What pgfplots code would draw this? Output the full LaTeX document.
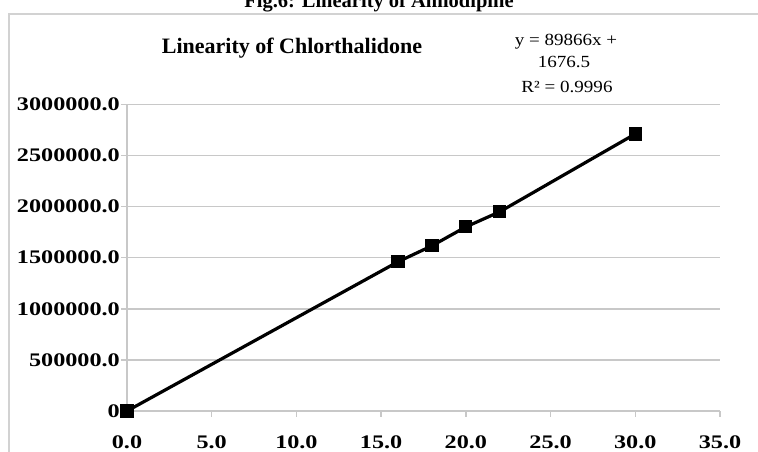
\documentclass[border=0pt]{standalone}
\usepackage{fontspec}
\setmainfont{Liberation Serif}
\newfontfamily\stretchfont{Liberation Serif}[FakeStretch=1.26]
\newfontfamily\eqfont{Liberation Serif}[FakeStretch=1.12]
\usepackage{pgfplots}
\pgfplotsset{compat=1.18}
\definecolor{gridgray}{HTML}{C8C8C8}
\definecolor{framegray}{HTML}{D2D2D2}
\begin{document}
\begin{tikzpicture}[x=1pt,y=1pt]
% outer frame
\draw[framegray, line width=2pt] (8.5,-10) -- (8.5,438) -- (770,438);
% cut-off figure caption
\node[anchor=base, inner sep=0pt, font=\bfseries\fontsize{20.5}{22}\selectfont] at (379,444.5) {Fig.6: Linearity of Amlodipine};
\begin{axis}[
  at={(127pt,41pt)}, anchor=origin,
  scale only axis, width=593pt, height=306.5pt,
  xmin=0, xmax=35, ymin=0, ymax=3000000,
  axis x line=bottom, axis y line=left,
  axis line style={-, gridgray, line width=1.5pt},
  xtick={0,5,...,35},
  xticklabels={0.0,5.0,10.0,15.0,20.0,25.0,30.0,35.0},
  ytick={0,500000,1000000,1500000,2000000,2500000,3000000},
  yticklabels={0,500000.0,1000000.0,1500000.0,2000000.0,2500000.0,3000000.0},
  scaled y ticks=false, scaled x ticks=false,
  tick align=outside, major tick length=6pt,
  tick style={gridgray, line width=1.5pt},
  ymajorgrids, major grid style={gridgray, line width=1.5pt},
  ticklabel style={font=\stretchfont\bfseries\fontsize{19.2}{20}\selectfont, text=black},
  yticklabel style={inner sep=1pt},
  xticklabel style={inner sep=0pt, yshift=-19pt},
  clip=false,
]
\addplot[black, line width=3.2pt, mark=square*, mark size=5pt, mark options={solid}] coordinates {
  (0,0) (16,1461000) (18,1617000) (20,1802000) (22,1950000) (30,2712000)
};
\end{axis}
\node[anchor=base, inner sep=0pt, font=\bfseries\fontsize{22}{24}\selectfont] at (292,398) {Linearity of Chlorthalidone};
\node[inner sep=0pt, font=\eqfont\fontsize{17}{18}\selectfont] at (566,410) {y = 89866x +};
\node[inner sep=0pt, font=\eqfont\fontsize{17}{18}\selectfont] at (564,390) {1676.5};
\node[inner sep=0pt, font=\eqfont\fontsize{17}{18}\selectfont] at (567,365) {R² = 0.9996};
\pgfresetboundingbox
\path[use as bounding box] (0,0) rectangle (758,452);
\end{tikzpicture}
\end{document}
